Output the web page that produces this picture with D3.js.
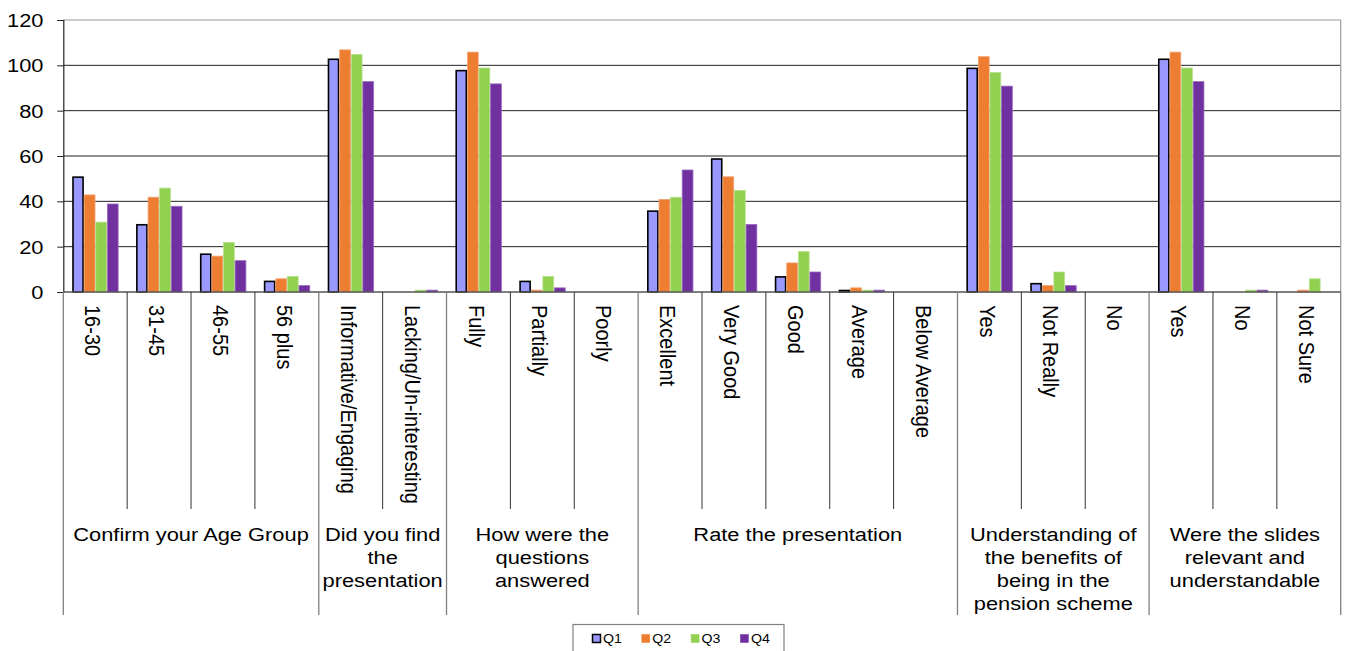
<!DOCTYPE html>
<html><head><meta charset="utf-8">
<script src="https://cdn.jsdelivr.net/npm/d3@7/dist/d3.min.js"></script>
<style>body{margin:0;background:#fff;}svg{display:block;font-family:"Liberation Sans",Arial,sans-serif;}</style>
</head><body><svg id="c" width="1347" height="651"></svg>
<script>
const categories = ["16-30","31-45","46-55","56 plus","Informative/Engaging","Lacking/Un-interesting","Fully","Partially","Poorly","Excellent","Very Good","Good","Average","Below Average","Yes","Not Really","No","Yes","No","Not Sure"];
const groups = [
  {lines:["Confirm your Age Group"], n:4},
  {lines:["Did you find","the","presentation"], n:2},
  {lines:["How were the","questions","answered"], n:3},
  {lines:["Rate the presentation"], n:5},
  {lines:["Understanding of","the benefits of","being in the","pension scheme"], n:3},
  {lines:["Were the slides","relevant and","understandable"], n:3}
];
const seriesNames = ["Q1","Q2","Q3","Q4"];
const q1 = [51,30,17,5,103,0,98,5,0,36,59,7,1,0,99,4,0,103,0,0];
const q2 = [43,42,16,6,107,0,106,1,0,41,51,13,2,0,104,3,0,106,0,1];
const q3 = [31,46,22,7,105,1,99,7,0,42,45,18,1,0,97,9,0,99,1,6];
const q4 = [39,38,14,3,93,1,92,2,0,54,30,9,1,0,91,3,0,93,1,0];
const yTicks = [0,20,40,60,80,100,120];
const colors = ["#9999FF","#ED7D31","#92D050","#7030A0"];
const strokes = ["#000000","#F4A070","#B5E08A","#9A6AC0"];

const values = [q1,q2,q3,q4];
const svg = d3.select("#c");
const L = 63.3, R = 1340.7, T = 20, B = 292;
const SX = 1.15;

const x0 = d3.scaleBand().domain(d3.range(categories.length)).range([L,R]).paddingInner(0).paddingOuter(0);
const bw = x0.bandwidth();
const x1 = d3.scaleBand().domain(d3.range(4)).range([bw*0.14, bw*0.865]).padding(0);
const y = d3.scaleLinear().domain([0,120]).range([B,T]);

// gridlines
svg.append("g").selectAll("line").data(yTicks.filter(t=>t>0 && t<120)).join("line")
  .attr("x1",L).attr("x2",R).attr("y1",d=>y(d)).attr("y2",d=>y(d))
  .attr("stroke","#222").attr("stroke-width",1);
// top & right border
svg.append("line").attr("x1",L).attr("x2",R).attr("y1",y(120)).attr("y2",y(120)).attr("stroke","#9a9a9a").attr("stroke-width",1.2);
svg.append("line").attr("x1",R).attr("x2",R).attr("y1",y(120)).attr("y2",B).attr("stroke","#9a9a9a").attr("stroke-width",1.2);

// bars
const bars = svg.append("g");
categories.forEach((c,i)=>{
  values.forEach((arr,s)=>{
    const v = arr[i];
    if(v<=0) return;
    bars.append("rect")
      .attr("x", x0(i)+x1(s) + (s===0?0.75:0.4))
      .attr("y", y(v) + (s===0?0.75:0.4))
      .attr("width", x1.bandwidth() - (s===0?1.5:0.8))
      .attr("height", Math.max(0, B - y(v) - (s===0?0.75:0.4)))
      .attr("fill", colors[s])
      .attr("stroke", strokes[s])
      .attr("stroke-width", s===0?1.6:0.8);
  });
});

// y axis
const yAxis = d3.axisLeft(y).tickValues(yTicks).tickSize(6).tickFormat(d=>d);
const ya = svg.append("g").attr("transform",`translate(${L},0)`).call(yAxis);
ya.select(".domain").attr("stroke","#222").attr("stroke-width",1.2);
ya.selectAll(".tick line").attr("stroke","#222");
ya.selectAll(".tick text").remove();
yTicks.forEach(t=>{
  svg.append("text").attr("transform",`translate(43.5,${y(t)}) scale(${SX},1)`)
    .attr("text-anchor","end").attr("dominant-baseline","central")
    .attr("font-size",19).attr("fill","#000").text(t);
});

// x axis baseline
svg.append("line").attr("x1",L).attr("x2",R).attr("y1",B).attr("y2",B).attr("stroke","#555").attr("stroke-width",1.5);

// category separators
const groupStarts = [];
let acc = 0;
groups.forEach(g=>{groupStarts.push(acc); acc+=g.n;});
const isGroupEdge = new Set([...groupStarts, categories.length]);
for(let k=0;k<=categories.length;k++){
  const xx = k<categories.length ? x0(k) : R;
  const ge = isGroupEdge.has(k);
  svg.append("line").attr("x1",xx).attr("x2",xx).attr("y1",B).attr("y2", ge?615:509)
    .attr("stroke", ge?"#808080":"#333").attr("stroke-width", ge?1.3:1);
}

// category labels (rotated)
categories.forEach((c,i)=>{
  const cx = x0(i)+bw/2 - 2;
  svg.append("text").attr("transform",`translate(${cx},305) scale(1.1,1) rotate(90)`)
    .attr("text-anchor","start").attr("dominant-baseline","central")
    .attr("font-size",20).attr("fill","#000").text(c);
});

// group labels
groups.forEach((g,gi)=>{
  const a = x0(groupStarts[gi]);
  const b = groupStarts[gi]+g.n < categories.length ? x0(groupStarts[gi]+g.n) : R;
  const cx = (a+b)/2;
  g.lines.forEach((ln,li)=>{
    svg.append("text").attr("transform",`translate(${cx},${534+li*23}) scale(${SX},1)`)
      .attr("text-anchor","middle").attr("dominant-baseline","central")
      .attr("font-size",19).attr("fill","#000").text(ln);
  });
});

// legend
const lg = svg.append("g");
lg.append("rect").attr("x",573).attr("y",624.5).attr("width",211).attr("height",32)
  .attr("fill","#fff").attr("stroke","#808080").attr("stroke-width",1.2);
seriesNames.forEach((s,i)=>{
  const lx = 592 + i*49.3;
  lg.append("rect").attr("x",lx+0.5).attr("y",634.5).attr("width",8).attr("height",8)
    .attr("fill",colors[i]).attr("stroke", i===0?"#000":colors[i]).attr("stroke-width", i===0?1.5:0.5);
  lg.append("text").attr("transform",`translate(${lx+11},638.5) scale(1.05,1)`)
    .attr("dominant-baseline","central").attr("font-size",13.5).attr("fill","#000").text(s);
});
</script></body></html>
